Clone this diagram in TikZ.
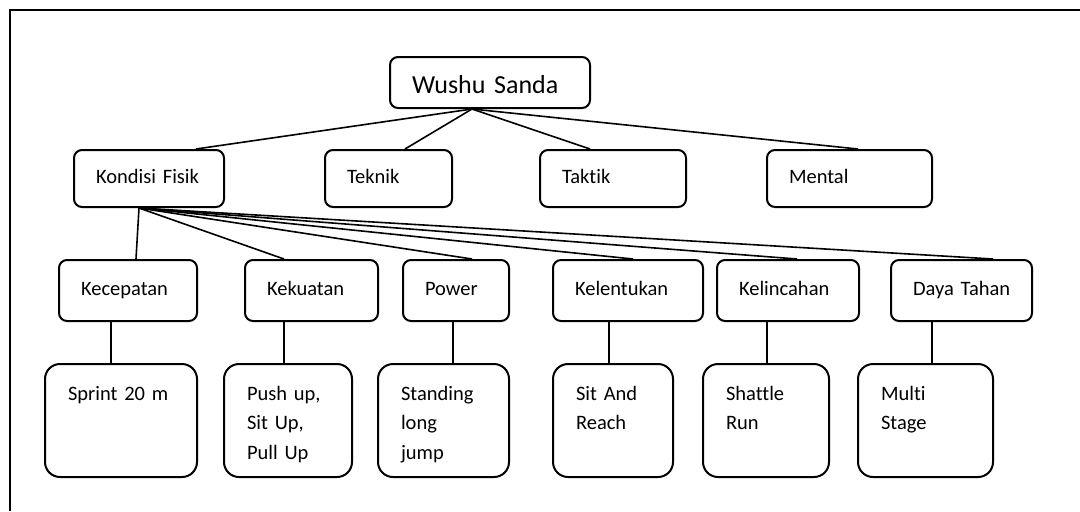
\documentclass[tikz,border=0pt]{standalone}
\usepackage{fontspec}
\setmainfont{Carlito}[Ligatures=NoCommon]
\usetikzlibrary{positioning}

\begin{document}
\begin{tikzpicture}[x=0.5pt, y=-0.5pt,
    root/.style={rectangle, draw, line width=1pt, rounded corners=4pt, minimum height=25.5pt, inner xsep=11pt, text width=#1, align=left, font=\fontsize{13}{15}\selectfont, text height=11pt, text depth=0.5pt},
    aspect/.style={rectangle, draw, line width=1pt, rounded corners=4pt, minimum height=28.5pt, inner xsep=11pt, text width=#1, align=left, font=\fontsize{10.25}{14.75}\selectfont, text height=7.5pt, text depth=2.5pt},
    component/.style={rectangle, draw, line width=1pt, rounded corners=4pt, minimum height=30.5pt, inner xsep=11pt, text width=#1, align=left, font=\fontsize{10.25}{14.75}\selectfont, text height=7pt, text depth=2.5pt},
    test/.style={rectangle, draw, line width=1pt, rounded corners=7.5pt, inner xsep=11.5pt, inner ysep=6pt, text width=#1, align=left, font=\fontsize{10.25}{14.75}\selectfont, text height=12pt, text depth=32.5pt},
    link/.style={line width=0.8pt}
]
\useasboundingbox (0,0) rectangle (1080,511);

% Frame
\draw[line width=1pt] (10,511) -- (10,10) -- (1080,10);

% Root
\node[root=78pt] (wushu) at (490,82.5) {Wushu~Sanda};

% Aspects
\node[aspect=53pt] (kondisi) at (149,178.5) {Kondisi~Fisik};
\node[aspect=41.5pt] (teknik) at (388.5,178.5) {Teknik};
\node[aspect=51pt] (taktik) at (613,178.5) {Taktik};
\node[aspect=60.5pt] (mental) at (849.5,178.5) {Mental};

% Physical components
\node[component=47pt] (kecepatan) at (128,290.5) {Kecepatan};
\node[component=44.5pt] (kekuatan) at (311.5,290.5) {Kekuatan};
\node[component=31pt] (power) at (456,290.5) {Power};
\node[component=53pt] (kelentukan) at (628,290.5) {Kelentukan};
\node[component=49pt] (kelincahan) at (788,290.5) {Kelincahan};
\node[component=48.5pt] (dayatahan) at (961.5,290.5) {Daya~Tahan};

% Tests
\node[test=53pt] (sprint) at (121,420.5) {Sprint 20~m};
\node[test=41pt] (pushup) at (288,420.5) {Push up,\\Sit Up,\\Pull Up};
\node[test=42.5pt] (standing) at (443.5,420.5) {Standing\\long\\jump};
\node[test=37pt] (sitreach) at (613,420.5) {Sit And\\Reach};
\node[test=40pt] (shattle) at (766,420.5) {Shattle\\Run};
\node[test=44.5pt] (multistage) at (925.5,420.5) {Multi\\Stage};

% Root to aspects
\foreach \n/\dx in {kondisi/23.5pt, teknik/8.25pt, taktik/-11.5pt, mental/4.25pt}
  \draw[link] ([xshift=-9pt]wushu.south) -- ([xshift=\dx]\n.north);

% Kondisi Fisik to components
\foreach \n/\dx in {kecepatan/4pt, kekuatan/-13.75pt, power/8pt, kelentukan/2.5pt, kelincahan/4.5pt, dayatahan/15.75pt}
  \draw[link] ([xshift=-5pt]kondisi.south) -- ([xshift=\dx]\n.north);

% Components to tests
\foreach \a/\b/\dx in {kecepatan/sprint/-5pt, kekuatan/pushup/-2pt, power/standing/4.75pt, kelentukan/sitreach/-2pt, kelincahan/shattle/0.5pt, dayatahan/multistage/3.25pt}
  \draw[link] ([xshift=\dx]\b.north) -- ([xshift=\dx]\b.north |- \a.south);

\end{tikzpicture}
\end{document}
